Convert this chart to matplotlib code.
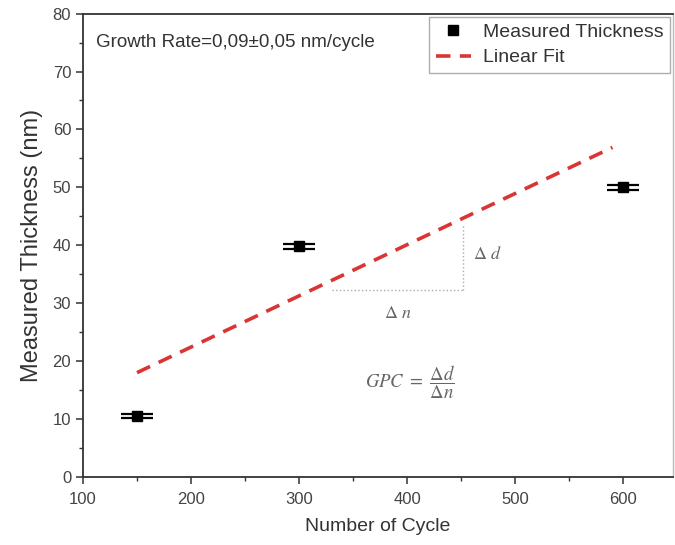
import matplotlib
matplotlib.use("Agg")
import matplotlib.pyplot as plt
from matplotlib.ticker import MultipleLocator
from matplotlib.lines import Line2D

plt.rcParams['font.family'] = ['Liberation Sans', 'DejaVu Sans']
plt.rcParams['mathtext.fontset'] = 'stix'

# Measured film thickness versus number of ALD cycles
cycles = [150, 300, 600]
thickness = [10.5, 39.8, 50.0]
thickness_err = [0.4, 0.4, 0.4]

# Linear fit segment (cycles, nm)
fit_cycles = [150, 590]
fit_thickness = [18.0, 56.9]

# Slope triangle annotation (cycles, nm)
tri_n = [330, 452]
tri_d = [32.2, 43.3]

x_ticks = [100, 200, 300, 400, 500, 600]
y_ticks = [0, 10, 20, 30, 40, 50, 60, 70, 80]

text_col = '#333333'
fig = plt.figure(figsize=(6.75, 5.45), dpi=100)
ax = fig.add_axes([0.123, 0.125, 0.874, 0.850])

ax.plot(fit_cycles, fit_thickness, linestyle=(0, (4, 2.6)), color='#d93535',
        linewidth=2.6, zorder=2)

ax.errorbar(cycles, thickness, yerr=thickness_err, fmt='none', ecolor='black',
            elinewidth=1.4, capsize=11.5, capthick=1.6, zorder=3)
ax.plot(cycles, thickness, linestyle='none', marker='s', markersize=7.5,
        color='black', zorder=4)

# Slope triangle: horizontal and vertical dotted legs
ax.plot([tri_n[0], tri_n[1]], [tri_d[0], tri_d[0]], linestyle=':',
        color='#aaaaaa', linewidth=1.0, zorder=1)
ax.plot([tri_n[1], tri_n[1]], [tri_d[0], tri_d[1]], linestyle=':',
        color='#aaaaaa', linewidth=1.0, zorder=1)
ax.text(tri_n[1] + 22, (tri_d[0] + tri_d[1]) / 2 + 0.6, r'$\Delta\ d$',
        fontsize=13, color='#666666', ha='center', va='center')
ax.text((tri_n[0] + tri_n[1]) / 2, tri_d[0] - 3.9, r'$\Delta\ n$',
        fontsize=13, color='#666666', ha='center', va='center')
ax.text(403, 16.4, r'$GPC\ =\ \dfrac{\Delta d}{\Delta n}$', fontsize=13.5,
        color='#666666', ha='center', va='center')

ax.text(0.022, 0.955, 'Growth Rate=0,09\u00b10,05 nm/cycle', transform=ax.transAxes,
        fontsize=13.5, color=text_col, ha='left', va='top')

ax.set_xlim(100, 646)
ax.set_ylim(0, 80)
ax.set_xticks(x_ticks)
ax.set_yticks(y_ticks)
ax.xaxis.set_minor_locator(MultipleLocator(50))
ax.yaxis.set_minor_locator(MultipleLocator(5))
ax.tick_params(which='major', direction='out', length=5, width=1.1,
               labelsize=12, colors='#333333', labelcolor='#444444')
ax.tick_params(axis='x', which='major', pad=6)
ax.tick_params(which='minor', direction='out', length=3, width=1.0, colors='#333333')
ax.tick_params(top=False, right=False, which='both')

for side in ['left', 'bottom', 'top']:
    ax.spines[side].set_color('#333333')
    ax.spines[side].set_linewidth(1.3)
ax.spines['right'].set_color('#bbbbbb')
ax.spines['right'].set_linewidth(1.0)

ax.set_xlabel('Number of Cycle', fontsize=14, color=text_col, labelpad=8)
ax.set_ylabel('Measured Thickness (nm)', fontsize=17, color=text_col, labelpad=7)

handles = [
    Line2D([], [], linestyle='none', marker='s', markersize=7, color='black'),
    Line2D([], [], linestyle=(0, (4, 2.6)), color='#d93535', linewidth=2.6),
]
leg = ax.legend(handles, ['Measured Thickness', 'Linear Fit'], loc='upper right',
                bbox_to_anchor=(1.0, 1.0), borderaxespad=0.15, fontsize=14,
                frameon=True, fancybox=False, edgecolor='#999999',
                handlelength=1.8, handletextpad=0.6, borderpad=0.35,
                labelspacing=0.4)
leg.get_frame().set_linewidth(1.0)
for t in leg.get_texts():
    t.set_color(text_col)

fig.savefig('out.png', dpi=100)
